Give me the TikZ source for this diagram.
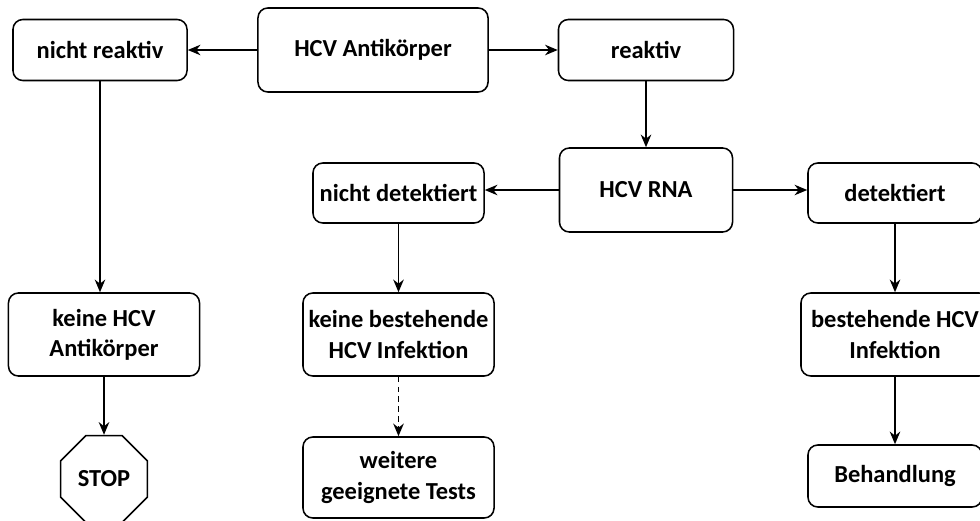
\documentclass[tikz,border=0pt]{standalone}
\usepackage{fontspec}
\setmainfont{Carlito}
\usetikzlibrary{arrows.meta,shapes.geometric}

\begin{document}
\begin{tikzpicture}[x=0.025cm, y=-0.025cm, line width=1.1pt,
  every node/.style={font=\fontsize{17.4}{21.5}\selectfont\bfseries},
  bx/.style={rounded corners=7pt, draw, align=center, inner sep=0pt},
  stopsign/.style={regular polygon, regular polygon sides=8, draw, minimum size=2.35cm, inner sep=0pt},
  arr/.style={-{Stealth[length=9pt,width=7.5pt]}}]
\useasboundingbox (0,0) rectangle (980,520);
% first test
\node[bx, minimum width=5.75cm, minimum height=2.1cm] (hcvab) at (373,50) {HCV Antikörper};
\node[bx, minimum width=4.35cm, minimum height=1.525cm] (nr) at (100,50) {nicht reaktiv};
\node[bx, minimum width=4.375cm, minimum height=1.525cm] (reak) at (646,50) {reaktiv};
% second test
\node[bx, minimum width=4.325cm, minimum height=2.1cm] (rna) at (646,190) {HCV RNA};
\node[bx, minimum width=4.275cm, minimum height=1.5cm] (nd) at (398.5,193) {nicht detektiert};
\node[bx, minimum width=4.35cm, minimum height=1.5cm] (det) at (895,193) {detektiert};
% results
\node[bx, minimum width=4.775cm, minimum height=2.075cm] (kab) at (104,334.5) {keine HCV\\Antikörper};
\node[bx, minimum width=4.775cm, minimum height=2.075cm] (kinf) at (398.5,334.5) {keine bestehende\\HCV Infektion};
\node[bx, minimum width=4.7cm, minimum height=2.075cm] (binf) at (895,334.5) {bestehende HCV\\Infektion};
\node[stopsign] (stop) at (104,479) {STOP};
\node[bx, minimum width=4.775cm, minimum height=2.025cm] (tests) at (398.5,477.5) {weitere\\geeignete Tests};
\node[bx, minimum width=4.35cm, minimum height=1.55cm] (beh) at (895,476) {Behandlung};
% arrows
\draw[arr] (hcvab) -- (nr);
\draw[arr] (hcvab) -- (reak);
\draw[arr] (reak) -- (rna);
\draw[arr] (rna.west) -- (rna.west -| nd.east);
\draw[arr] (rna.east) -- (rna.east -| det.west);
\draw[arr] (nr.south) -- (nr.south |- kab.north);
\draw[arr] (kab) -- (stop);
\draw[arr] (nd) -- (kinf);
\draw[arr, dash pattern=on 4pt off 3pt] (kinf) -- (tests);
\draw[arr] (det) -- (binf);
\draw[arr] (binf) -- (beh);
\end{tikzpicture}
\end{document}
